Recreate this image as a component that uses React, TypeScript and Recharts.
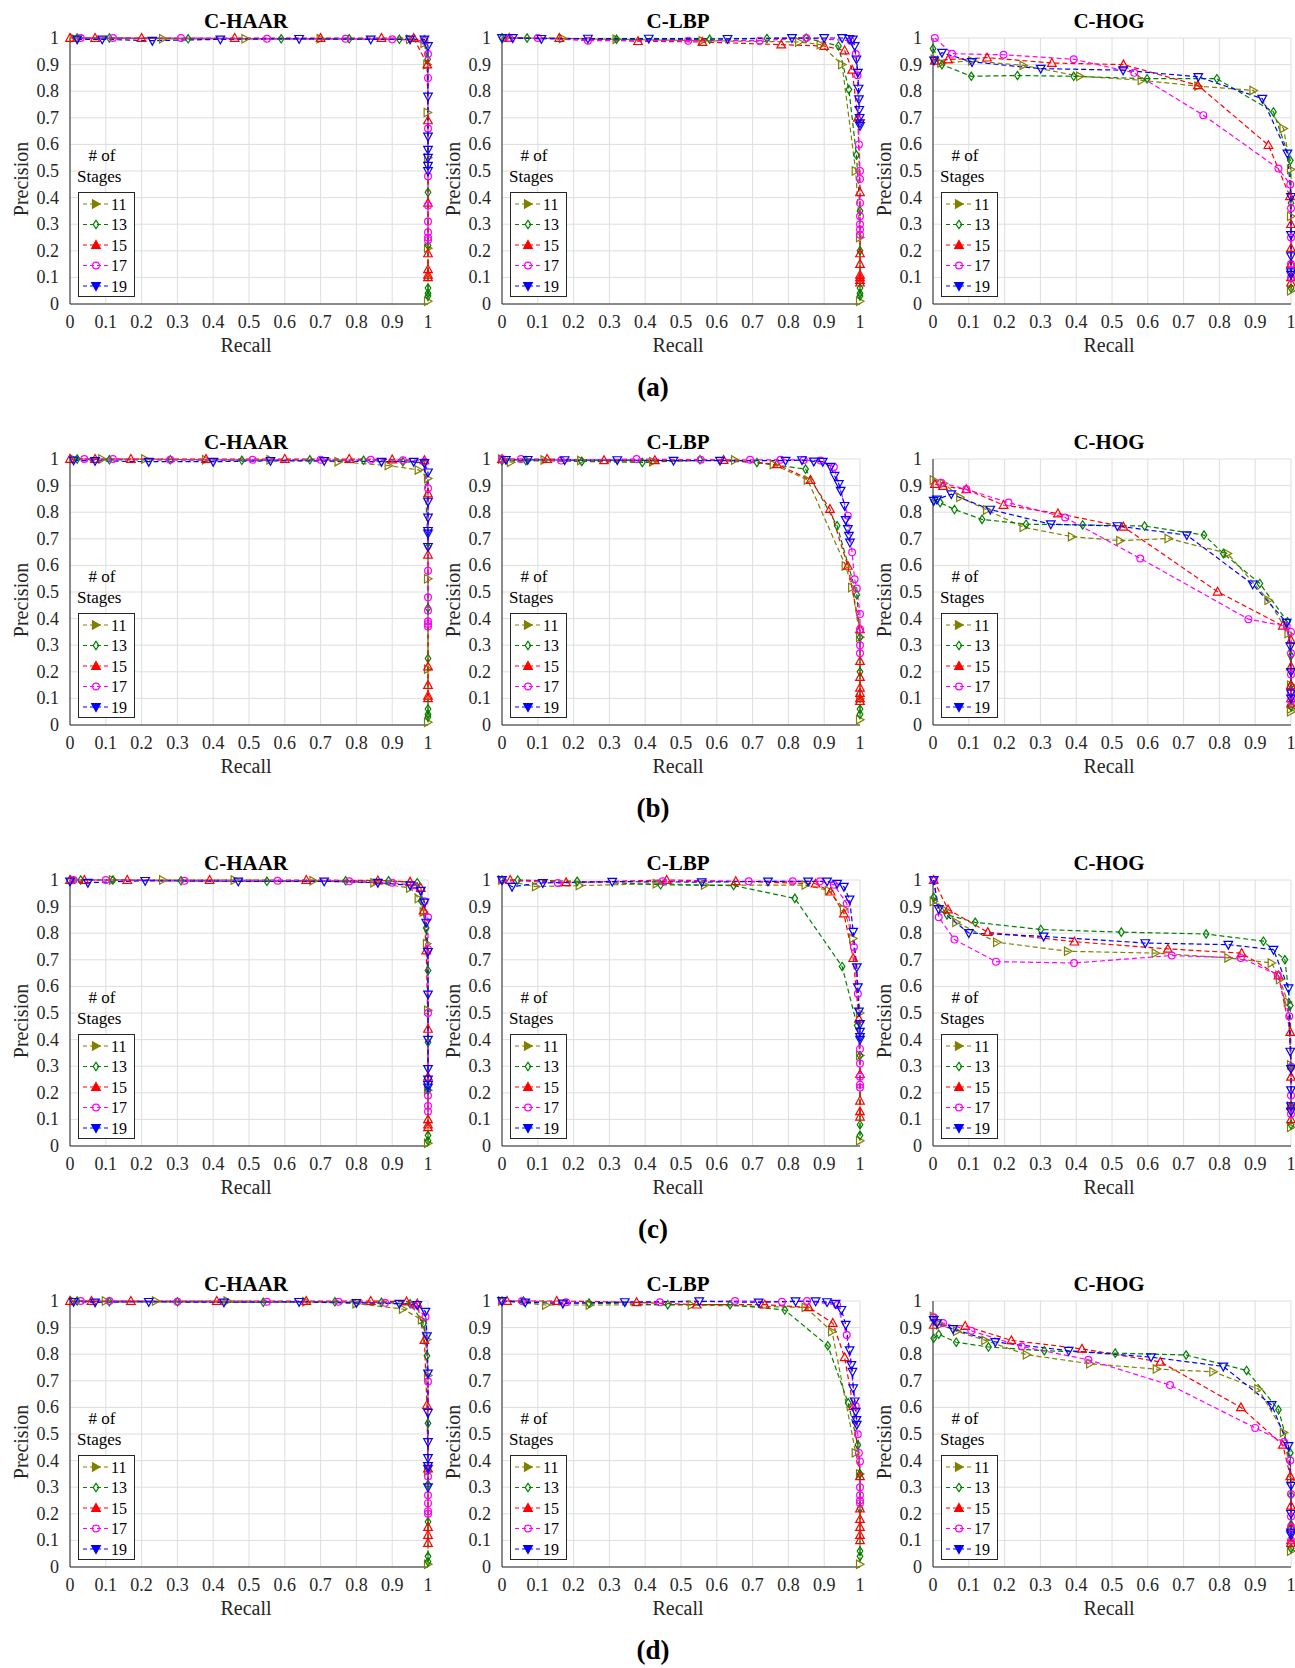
import React from 'react';
import { CartesianGrid, Line, LineChart, XAxis, YAxis } from 'recharts';

type Pair = [number, number];

const STAGES = ['11', '13', '15', '17', '19'];
const COLORS = ['#808000', '#008000', '#ff0000', '#ff00ff', '#0000ff'];
const TICKS = [0, 0.1, 0.2, 0.3, 0.4, 0.5, 0.6, 0.7, 0.8, 0.9, 1];
const TITLES = ['C-HAAR', 'C-LBP', 'C-HOG'];
const CAPTIONS = ['(a)', '(b)', '(c)', '(d)'];

// [recall, precision] per stage count, in the order of STAGES
const A_HAAR: Pair[][] = [
  [[0.01, 1], [0.26, 0.997], [0.49, 0.997], [0.7, 0.997], [0.95, 0.995], [0.99, 0.98], [0.998, 0.9], [0.999, 0.72], [1, 0.55], [1, 0.21], [1, 0.01]],
  [[0.02, 1], [0.11, 1], [0.33, 0.997], [0.59, 0.997], [0.78, 0.997], [0.92, 0.995], [0.99, 0.993], [0.999, 0.92], [1, 0.42], [1, 0.22], [1, 0.06], [1, 0.04], [1, 0.03]],
  [[0, 1], [0.07, 1], [0.2, 1], [0.46, 1], [0.7, 1], [0.87, 1], [0.96, 1], [0.998, 0.9], [1, 0.69], [1, 0.38], [1, 0.19], [1, 0.13], [1, 0.11], [1, 0.1]],
  [[0.03, 1], [0.12, 1], [0.31, 1], [0.55, 0.997], [0.77, 0.997], [0.9, 0.995], [0.99, 0.99], [1, 0.94], [1, 0.85], [1, 0.66], [1, 0.48], [1, 0.37], [1, 0.31], [1, 0.27], [1, 0.25], [1, 0.24]],
  [[0.02, 0.995], [0.09, 0.995], [0.23, 0.99], [0.42, 0.995], [0.64, 0.997], [0.84, 0.995], [0.95, 0.995], [0.99, 0.995], [1, 0.97], [1, 0.78], [1, 0.63], [1, 0.58], [1, 0.55], [1, 0.52], [1, 0.5]],
];
const A_LBP: Pair[][] = [
  [[0.01, 1], [0.17, 0.998], [0.32, 0.995], [0.56, 0.99], [0.83, 0.985], [0.89, 0.975], [0.95, 0.9], [0.988, 0.5], [1, 0.25], [1, 0.01]],
  [[0, 1], [0.07, 1], [0.32, 0.995], [0.58, 0.995], [0.74, 0.998], [0.85, 1], [0.94, 0.97], [0.969, 0.806], [0.99, 0.56], [1, 0.35], [1, 0.2], [1, 0.06], [1, 0.04], [1, 0.03]],
  [[0.02, 1], [0.16, 1], [0.38, 0.988], [0.56, 0.985], [0.78, 0.975], [0.9, 0.97], [0.957, 0.953], [0.978, 0.88], [0.994, 0.7], [1, 0.42], [1, 0.19], [1, 0.15], [1, 0.11], [1, 0.1], [1, 0.09], [1, 0.08]],
  [[0.02, 1], [0.1, 1], [0.24, 0.99], [0.52, 0.99], [0.72, 0.99], [0.85, 1], [0.974, 0.99], [0.988, 0.94], [0.993, 0.86], [0.997, 0.6], [1, 0.5], [1, 0.47], [1, 0.38], [1, 0.33], [1, 0.3], [1, 0.28], [1, 0.26]],
  [[0, 1], [0.03, 1], [0.11, 0.997], [0.24, 0.998], [0.41, 0.998], [0.63, 0.997], [0.81, 1], [0.9, 1], [0.95, 1], [0.97, 0.997], [0.98, 0.995], [0.985, 0.97], [0.99, 0.92], [0.994, 0.87], [0.996, 0.81], [0.997, 0.77], [0.998, 0.73], [0.999, 0.7], [1, 0.68], [1, 0.67]],
];
const A_HOG: Pair[][] = [
  [[0.005, 0.92], [0.023, 0.906], [0.109, 0.914], [0.253, 0.897], [0.411, 0.856], [0.583, 0.841], [0.741, 0.819], [0.895, 0.803], [0.979, 0.66], [1, 0.506], [1, 0.33], [1, 0.05]],
  [[0, 0.96], [0.025, 0.9], [0.107, 0.856], [0.236, 0.859], [0.393, 0.856], [0.598, 0.847], [0.793, 0.847], [0.951, 0.722], [0.998, 0.54], [1, 0.38], [1, 0.06]],
  [[0.005, 0.914], [0.042, 0.919], [0.151, 0.926], [0.332, 0.906], [0.532, 0.9], [0.74, 0.822], [0.937, 0.597], [0.997, 0.405], [1, 0.3], [1, 0.21], [1, 0.15], [1, 0.1], [1, 0.08]],
  [[0.005, 1], [0.053, 0.941], [0.197, 0.937], [0.393, 0.92], [0.562, 0.869], [0.755, 0.71], [0.965, 0.509], [0.998, 0.449], [1, 0.36], [1, 0.25], [1, 0.15], [1, 0.1]],
  [[0.003, 0.916], [0.025, 0.945], [0.109, 0.91], [0.301, 0.885], [0.531, 0.879], [0.741, 0.854], [0.92, 0.772], [0.99, 0.566], [1, 0.403], [1, 0.26], [1, 0.18], [1, 0.12], [1, 0.11]],
];

const B_HAAR: Pair[][] = [
  [[0.01, 1], [0.09, 1], [0.21, 1], [0.38, 0.997], [0.56, 0.997], [0.75, 0.99], [0.89, 0.975], [0.974, 0.959], [1, 0.927], [1, 0.55], [1, 0.21], [1, 0.01]],
  [[0.02, 1], [0.11, 0.997], [0.28, 0.997], [0.48, 0.995], [0.67, 0.997], [0.82, 0.995], [0.93, 0.99], [0.99, 0.985], [1, 0.67], [1, 0.44], [1, 0.25], [1, 0.06], [1, 0.04], [1, 0.03]],
  [[0, 1], [0.07, 1], [0.17, 1], [0.38, 1], [0.6, 1], [0.78, 1], [0.9, 0.998], [0.99, 0.995], [1, 0.87], [1, 0.64], [1, 0.22], [1, 0.15], [1, 0.11], [1, 0.1]],
  [[0.04, 1], [0.12, 1], [0.28, 0.997], [0.51, 0.997], [0.7, 0.997], [0.84, 0.997], [0.93, 0.995], [0.99, 0.99], [1, 0.89], [1, 0.58], [1, 0.48], [1, 0.43], [1, 0.39], [1, 0.38], [1, 0.37]],
  [[0.01, 0.995], [0.07, 0.993], [0.22, 0.99], [0.4, 0.99], [0.56, 0.993], [0.71, 0.993], [0.87, 0.99], [0.96, 0.99], [0.99, 0.985], [1, 0.95], [1, 0.84], [1, 0.78], [1, 0.73], [1, 0.72], [1, 0.67]],
];
const B_LBP: Pair[][] = [
  [[0, 1], [0.025, 0.988], [0.119, 0.996], [0.221, 0.994], [0.422, 0.99], [0.651, 0.996], [0.759, 0.979], [0.854, 0.921], [0.96, 0.598], [0.978, 0.517], [1, 0.33], [1, 0.1], [1, 0.02]],
  [[0, 0.994], [0.067, 0.994], [0.223, 0.991], [0.392, 0.987], [0.553, 0.997], [0.712, 0.987], [0.848, 0.962], [0.936, 0.749], [0.991, 0.49], [1, 0.33], [1, 0.2], [1, 0.06], [1, 0.04]],
  [[0, 1], [0.126, 1], [0.285, 0.995], [0.427, 0.995], [0.619, 0.996], [0.768, 0.98], [0.862, 0.921], [0.916, 0.812], [0.966, 0.598], [1, 0.36], [1, 0.24], [1, 0.18], [1, 0.14], [1, 0.12], [1, 0.1], [1, 0.09]],
  [[0, 1], [0.053, 1], [0.165, 0.994], [0.376, 1], [0.555, 0.997], [0.693, 0.997], [0.778, 0.997], [0.843, 0.996], [0.89, 0.994], [0.927, 0.97], [0.966, 0.787], [0.978, 0.649], [0.985, 0.548], [0.991, 0.513], [1, 0.417], [1, 0.36], [1, 0.3], [1, 0.27]],
  [[0.011, 0.997], [0.072, 0.997], [0.175, 0.996], [0.322, 0.996], [0.479, 0.994], [0.609, 0.994], [0.792, 0.994], [0.838, 0.996], [0.871, 0.991], [0.896, 0.99], [0.918, 0.971], [0.929, 0.937], [0.941, 0.906], [0.946, 0.881], [0.957, 0.824], [0.96, 0.771], [0.966, 0.737], [0.969, 0.712], [0.972, 0.686]],
];
const B_HOG: Pair[][] = [
  [[0.002, 0.921], [0.03, 0.908], [0.076, 0.856], [0.151, 0.808], [0.253, 0.743], [0.388, 0.708], [0.523, 0.693], [0.658, 0.701], [0.823, 0.645], [0.937, 0.469], [0.993, 0.344], [1, 0.15], [1, 0.06], [1, 0.05]],
  [[0.002, 0.843], [0.02, 0.836], [0.06, 0.81], [0.137, 0.773], [0.26, 0.755], [0.418, 0.752], [0.591, 0.748], [0.757, 0.714], [0.811, 0.645], [0.913, 0.532], [0.99, 0.388], [1, 0.26], [1, 0.15], [1, 0.07]],
  [[0.005, 0.906], [0.028, 0.898], [0.093, 0.886], [0.197, 0.827], [0.349, 0.795], [0.532, 0.745], [0.795, 0.501], [0.977, 0.373], [1, 0.319], [1, 0.22], [1, 0.15], [1, 0.1], [1, 0.08]],
  [[0.023, 0.911], [0.093, 0.886], [0.211, 0.836], [0.369, 0.78], [0.579, 0.626], [0.881, 0.398], [0.988, 0.371], [1, 0.35], [1, 0.27], [1, 0.19], [1, 0.12], [1, 0.09]],
  [[0.002, 0.843], [0.011, 0.848], [0.051, 0.868], [0.16, 0.81], [0.329, 0.755], [0.515, 0.748], [0.709, 0.714], [0.893, 0.529], [0.988, 0.385], [0.998, 0.296], [1, 0.2], [1, 0.12], [1, 0.1]],
];

const C_HAAR: Pair[][] = [
  [[0.01, 1], [0.12, 1], [0.26, 1], [0.46, 1], [0.68, 0.997], [0.85, 0.99], [0.95, 0.97], [0.974, 0.93], [0.988, 0.88], [0.997, 0.76], [1, 0.51], [1, 0.21], [1, 0.01]],
  [[0.03, 1], [0.12, 1], [0.31, 0.997], [0.55, 0.995], [0.77, 0.997], [0.89, 0.997], [0.97, 0.99], [0.981, 0.922], [0.995, 0.82], [1, 0.66], [1, 0.39], [1, 0.21], [1, 0.04], [1, 0.02]],
  [[0, 1], [0.04, 1], [0.16, 1], [0.39, 1], [0.66, 1], [0.86, 0.998], [0.95, 0.993], [0.98, 0.97], [0.988, 0.885], [0.995, 0.735], [1, 0.44], [1, 0.26], [1, 0.1], [1, 0.08], [1, 0.07]],
  [[0.01, 1], [0.1, 1], [0.32, 0.997], [0.58, 0.997], [0.78, 0.995], [0.9, 0.99], [0.96, 0.98], [0.99, 0.92], [1, 0.86], [1, 0.74], [1, 0.5], [1, 0.19], [1, 0.15], [1, 0.13]],
  [[0, 0.995], [0.05, 0.99], [0.21, 0.997], [0.47, 0.995], [0.71, 0.995], [0.86, 0.99], [0.95, 0.98], [0.98, 0.96], [0.99, 0.916], [0.995, 0.84], [1, 0.73], [1, 0.57], [1, 0.4], [1, 0.29], [1, 0.25], [1, 0.23], [1, 0.22]],
];
const C_LBP: Pair[][] = [
  [[0, 1], [0.095, 0.975], [0.217, 0.979], [0.432, 0.986], [0.567, 0.981], [0.848, 0.981], [0.913, 0.96], [0.955, 0.891], [0.981, 0.78], [1, 0.5], [1, 0.34], [1, 0.02]],
  [[0, 1], [0.044, 1], [0.21, 0.995], [0.443, 0.982], [0.647, 0.979], [0.818, 0.931], [0.95, 0.675], [0.992, 0.453], [1, 0.34], [1, 0.08], [1, 0.04]],
  [[0.023, 1], [0.179, 0.991], [0.46, 1], [0.653, 0.995], [0.876, 0.986], [0.918, 0.956], [0.955, 0.874], [0.981, 0.706], [0.997, 0.478], [1, 0.27], [1, 0.17], [1, 0.13], [1, 0.11]],
  [[0, 1], [0.156, 0.989], [0.449, 0.995], [0.689, 0.995], [0.812, 0.995], [0.888, 0.995], [0.927, 0.982], [0.963, 0.912], [0.983, 0.748], [0.994, 0.572], [1, 0.365], [1, 0.31], [1, 0.26], [1, 0.23], [1, 0.22]],
  [[0, 1], [0.028, 0.975], [0.114, 0.989], [0.308, 0.994], [0.558, 0.992], [0.743, 0.995], [0.855, 0.995], [0.908, 0.995], [0.936, 0.986], [0.955, 0.975], [0.971, 0.927], [0.981, 0.806], [0.991, 0.672], [0.994, 0.597], [0.997, 0.506], [1, 0.459], [1, 0.43], [1, 0.41], [1, 0.4]],
];
const C_HOG: Pair[][] = [
  [[0.002, 0.919], [0.028, 0.891], [0.065, 0.841], [0.179, 0.766], [0.377, 0.732], [0.622, 0.725], [0.825, 0.707], [0.946, 0.688], [0.969, 0.626], [0.991, 0.541], [1, 0.305], [1, 0.15], [1, 0.07]],
  [[0.002, 0.935], [0.039, 0.869], [0.118, 0.841], [0.301, 0.814], [0.526, 0.804], [0.763, 0.797], [0.923, 0.77], [0.983, 0.7], [0.998, 0.528], [1, 0.3], [1, 0.15], [1, 0.08]],
  [[0.002, 1], [0.042, 0.889], [0.153, 0.804], [0.395, 0.768], [0.656, 0.741], [0.862, 0.725], [0.965, 0.641], [0.998, 0.428], [1, 0.26], [1, 0.15], [1, 0.1]],
  [[0.002, 1], [0.016, 0.86], [0.06, 0.776], [0.176, 0.693], [0.394, 0.688], [0.667, 0.716], [0.86, 0.707], [0.963, 0.643], [0.995, 0.488], [1, 0.297], [1, 0.19], [1, 0.12]],
  [[0.002, 1], [0.016, 0.891], [0.1, 0.801], [0.309, 0.788], [0.593, 0.763], [0.825, 0.757], [0.951, 0.738], [0.993, 0.593], [0.998, 0.355], [1, 0.29], [1, 0.21], [1, 0.15], [1, 0.13]],
];

const D_HAAR: Pair[][] = [
  [[0.01, 1], [0.1, 1], [0.24, 1], [0.44, 1], [0.66, 0.997], [0.8, 0.99], [0.93, 0.97], [0.983, 0.929], [0.997, 0.855], [1, 0.72], [1, 0.36], [1, 0.01]],
  [[0.02, 1], [0.11, 0.997], [0.3, 0.997], [0.54, 0.995], [0.74, 0.997], [0.87, 0.995], [0.95, 0.99], [0.988, 0.916], [0.997, 0.794], [1, 0.54], [1, 0.31], [1, 0.17], [1, 0.04], [1, 0.02]],
  [[0, 1], [0.06, 1], [0.17, 1], [0.41, 1], [0.66, 1], [0.84, 1], [0.94, 0.998], [0.97, 0.99], [0.99, 0.853], [0.997, 0.609], [1, 0.37], [1, 0.15], [1, 0.12], [1, 0.09]],
  [[0.03, 1], [0.11, 1], [0.3, 0.997], [0.55, 0.997], [0.75, 0.997], [0.88, 0.993], [0.96, 0.985], [0.993, 0.941], [1, 0.697], [1, 0.34], [1, 0.27], [1, 0.24], [1, 0.21], [1, 0.2]],
  [[0.01, 0.997], [0.07, 0.995], [0.22, 0.997], [0.43, 0.995], [0.64, 0.997], [0.8, 0.993], [0.92, 0.99], [0.97, 0.985], [0.993, 0.96], [0.997, 0.868], [1, 0.728], [1, 0.58], [1, 0.47], [1, 0.41], [1, 0.38], [1, 0.37], [1, 0.3]],
];
const D_LBP: Pair[][] = [
  [[0, 1], [0.123, 0.985], [0.245, 0.985], [0.53, 0.985], [0.848, 0.976], [0.922, 0.885], [0.988, 0.429], [1, 0.35], [1, 0.01]],
  [[0, 1], [0.06, 1], [0.243, 0.992], [0.463, 0.986], [0.637, 0.986], [0.79, 0.966], [0.91, 0.832], [0.967, 0.617], [0.994, 0.459], [1, 0.35], [1, 0.22], [1, 0.06], [1, 0.04]],
  [[0.014, 1], [0.153, 1], [0.376, 0.995], [0.544, 0.986], [0.734, 0.986], [0.857, 0.976], [0.924, 0.917], [0.957, 0.788], [0.981, 0.604], [1, 0.341], [1, 0.22], [1, 0.18], [1, 0.15], [1, 0.12], [1, 0.1]],
  [[0, 1], [0.056, 1], [0.179, 0.995], [0.441, 0.995], [0.651, 1], [0.782, 0.997], [0.852, 1], [0.936, 0.985], [0.963, 0.872], [0.988, 0.605], [0.994, 0.499], [0.997, 0.429], [1, 0.397], [1, 0.3], [1, 0.27], [1, 0.25], [1, 0.24]],
  [[0, 1], [0.065, 0.995], [0.17, 0.991], [0.343, 0.996], [0.551, 0.999], [0.717, 0.995], [0.82, 0.999], [0.876, 0.999], [0.908, 0.996], [0.932, 0.99], [0.948, 0.967], [0.96, 0.911], [0.971, 0.815], [0.976, 0.76], [0.979, 0.734], [0.981, 0.672], [0.985, 0.623], [0.988, 0.584], [0.99, 0.553], [0.991, 0.535]],
];
const D_HOG: Pair[][] = [
  [[0.002, 0.942], [0.02, 0.911], [0.067, 0.886], [0.146, 0.852], [0.262, 0.798], [0.439, 0.764], [0.625, 0.744], [0.783, 0.734], [0.909, 0.669], [0.98, 0.506], [1, 0.327], [1, 0.06]],
  [[0.002, 0.86], [0.016, 0.875], [0.065, 0.845], [0.155, 0.827], [0.311, 0.813], [0.509, 0.804], [0.707, 0.797], [0.876, 0.739], [0.965, 0.591], [0.998, 0.429], [1, 0.27], [1, 0.16], [1, 0.07]],
  [[0.002, 0.91], [0.09, 0.906], [0.219, 0.852], [0.416, 0.82], [0.635, 0.771], [0.86, 0.6], [0.977, 0.459], [0.998, 0.341], [1, 0.23], [1, 0.15], [1, 0.1], [1, 0.09]],
  [[0.002, 0.939], [0.028, 0.917], [0.107, 0.888], [0.248, 0.829], [0.434, 0.779], [0.662, 0.684], [0.9, 0.523], [0.98, 0.47], [0.998, 0.4], [1, 0.274], [1, 0.19], [1, 0.15], [1, 0.1]],
  [[0.002, 0.929], [0.011, 0.917], [0.056, 0.895], [0.174, 0.846], [0.379, 0.813], [0.609, 0.789], [0.811, 0.754], [0.946, 0.609], [0.993, 0.455], [1, 0.306], [1, 0.2], [1, 0.13], [1, 0.12]],
];

const ROWS = [
  [A_HAAR, A_LBP, A_HOG],
  [B_HAAR, B_LBP, B_HOG],
  [C_HAAR, C_LBP, C_HOG],
  [D_HAAR, D_LBP, D_HOG],
];

const FONT = "'Liberation Serif', 'Times New Roman', Times, serif";
const INK = '#262626';
const GRID = '#dedede';
const SERIF = { fontFamily: FONT };

// each panel: 70px left gutter, 358x266 plot, x axis band below
const W = 436;
const H = 364;
const PLOT_LEFT = [70, 502, 933];
const ROW_TOP = [38, 459, 880, 1301];

const toPts = (s: Pair[]) => s.map(([r, p]) => ({ r, p }));
const fmt = (v: number) => String(v);

const XTick = (props: any) => {
  const { x, y, payload } = props;
  return (
    <text x={x} y={y + 12} textAnchor="middle" fontSize={18} fill={INK} style={SERIF}>
      {fmt(payload.value)}
    </text>
  );
};

const YTick = (props: any) => {
  const { x, y, payload } = props;
  return (
    <text x={x} y={y + 6} textAnchor="end" fontSize={18} fill={INK} style={SERIF}>
      {fmt(payload.value)}
    </text>
  );
};

const Marker = ({ kind, x, y, fill }: { kind: number; x: number; y: number; fill?: boolean }) => {
  const c = COLORS[kind];
  const p = { stroke: c, strokeWidth: 1.2, fill: fill ? c : 'none' };
  switch (kind) {
    case 0:
      return <polygon points={`${x - 3.5},${y - 4.2} ${x - 3.5},${y + 4.2} ${x + 4},${y}`} {...p} />;
    case 1:
      return <polygon points={`${x},${y - 4.2} ${x + 2.8},${y} ${x},${y + 4.2} ${x - 2.8},${y}`} {...p} />;
    case 2:
      return <polygon points={`${x},${y - 4.5} ${x + 4.3},${y + 3.3} ${x - 4.3},${y + 3.3}`} {...p} />;
    case 3:
      return <circle cx={x} cy={y} r={3.4} {...p} />;
    default:
      return <polygon points={`${x - 4.3},${y - 3.3} ${x + 4.3},${y - 3.3} ${x},${y + 4.5}`} {...p} />;
  }
};

const dotFor = (kind: number) => (props: any) => {
  const { cx, cy, index } = props;
  if (cx == null || cy == null) return <g key={`e${kind}-${index}`} />;
  return (
    <g key={`d${kind}-${index}`}>
      <Marker kind={kind} x={cx} y={cy} />
    </g>
  );
};

const Panel = ({ title, series, left, top }: { title: string; series: Pair[][]; left: number; top: number }) => (
  <div style={{ position: 'absolute', left, top, width: W, height: H }}>
    <LineChart width={W} height={H} margin={{ top: 38, right: 8, bottom: 0, left: 10 }}>
      <CartesianGrid stroke={GRID} />
      <XAxis
        type="number"
        dataKey="r"
        domain={[0, 1]}
        ticks={TICKS}
        tickLine={false}
        tickMargin={6}
        height={60}
        axisLine={{ stroke: INK }}
        tick={<XTick />}
      />
      <YAxis
        type="number"
        domain={[0, 1]}
        ticks={TICKS}
        tickLine={false}
        tickMargin={5}
        width={60}
        axisLine={{ stroke: INK }}
        tick={<YTick />}
      />
      {series.map((s, i) => (
        <Line
          key={STAGES[i]}
          data={toPts(s)}
          dataKey="p"
          type="linear"
          stroke={COLORS[i]}
          strokeWidth={1.2}
          strokeDasharray="5 3"
          dot={dotFor(i)}
          activeDot={false}
          isAnimationActive={false}
        />
      ))}
    </LineChart>
    <svg width={W} height={H} style={{ position: 'absolute', left: 0, top: 0, pointerEvents: 'none' }}>
      <text x={246} y={28} textAnchor="middle" fontWeight="bold" fontSize={21} fill="#000" style={SERIF}>
        {title}
      </text>
      <text x={246} y={352} textAnchor="middle" fontSize={20} fill={INK} style={SERIF}>
        Recall
      </text>
      <text x={28} y={179} transform="rotate(-90 28 179)" textAnchor="middle" fontSize={20} fill={INK} style={SERIF}>
        Precision
      </text>
      <text x={102} y={161} textAnchor="middle" fontSize={17} fill="#000" style={SERIF}>
        # of
      </text>
      <text x={77} y={182} fontSize={17} fill="#000" style={SERIF}>
        Stages
      </text>
      <rect x={78.5} y={192.5} width={56} height={104} fill="#fff" stroke={INK} strokeWidth={1} />
      {STAGES.map((s, i) => {
        const y = 204 + i * 20.5;
        return (
          <g key={s}>
            <line x1={83} x2={109} y1={y} y2={y} stroke={COLORS[i]} strokeWidth={1.2} strokeDasharray="4 3" />
            <Marker kind={i} x={96} y={y} fill={i % 2 === 0} />
            <text x={111} y={y + 5.5} fontSize={16} fill="#000" style={SERIF}>
              {s}
            </text>
          </g>
        );
      })}
    </svg>
  </div>
);

export default function App() {
  return (
    <div
      style={{
        position: 'absolute',
        left: 0,
        top: 0,
        width: 1295,
        height: 1668,
        overflow: 'hidden',
        background: '#fff',
        fontFamily: FONT,
      }}
    >
      {ROWS.map((row, r) => (
        <React.Fragment key={CAPTIONS[r]}>
          {row.map((series, c) => (
            <Panel
              key={TITLES[c]}
              title={TITLES[c]}
              series={series}
              left={PLOT_LEFT[c] - 70}
              top={ROW_TOP[r] - 38}
            />
          ))}
          <svg width={1295} height={40} style={{ position: 'absolute', left: 0, top: ROW_TOP[r] + 330 }}>
            <text x={653} y={28} textAnchor="middle" fontWeight="bold" fontSize={27} fill="#000" style={SERIF}>
              {CAPTIONS[r]}
            </text>
          </svg>
        </React.Fragment>
      ))}
    </div>
  );
}
